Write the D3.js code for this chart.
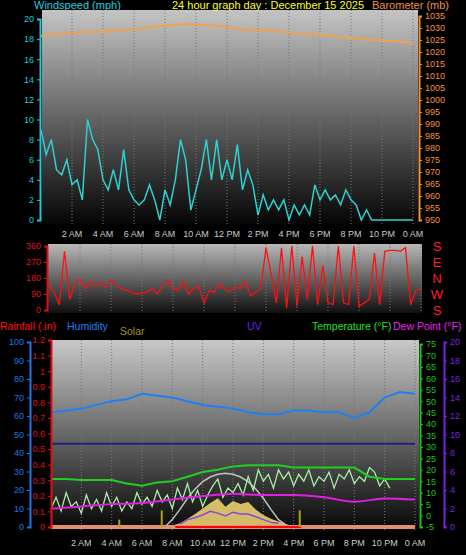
<!DOCTYPE html>
<html><head><meta charset="utf-8">
<script src="https://cdn.jsdelivr.net/npm/d3@7"></script>
<style>body{margin:0;background:#000}svg{display:block;font-family:"Liberation Sans",Arial,sans-serif}</style>
</head><body><svg id="c" width="466" height="555"></svg>
<script>
const hourTicks = [2,4,6,8,10,12,14,16,18,20,22,24]
const hourLabels = ['2 AM','4 AM','6 AM','8 AM','10 AM','12 PM','2 PM','4 PM','6 PM','8 PM','10 PM','0 AM']

// windspeed every 20 minutes (mph)
const wind = [9,6.5,8,5,4.5,6,3.5,4,2,10,8,7,4,3,5,3,7,3,2,1.5,2,3.5,2,0,3,1.5,4,8,6,1,3,5,8,4,8,4,
  6,4,7.5,3,5,3.5,0.5,2.5,1,2,1,2,0,1.5,0.5,1.5,0.5,3.5,2,3,2,2.5,1.5,3,2,1.5,0,1,0,0,0,0,0,0,0,0,0]
// barometer hourly (mb)
const baro = [1026.7,1027.5,1028,1028.3,1028.5,1029,1029.5,1030.3,1031,1031.5,1031.5,1031,1030.3,1029.5,1029,1028.6,1028.2,1027.6,1027.2,1026.6,1025.8,1025.2,1024.8,1024.5,1023.4]
// wind direction every 20 minutes (deg)
const windDir = [140,100,30,330,60,150,170,120,160,140,150,130,170,140,120,110,100,90,95,100,120,90,140,170,120,110,160,90,120,130,40,110,100,150,120,100,
  130,120,160,80,100,120,350,200,40,350,10,360,20,300,60,360,30,250,40,30,360,40,30,360,20,40,60,320,30,330,335,335,330,350,30,110,120]
// humidity hourly (%)
const humidity = [62,63,64,66,68,69,72,71,70,68,66,65,64,62,61,61,63,63,62,62,59,62,70,73,72]
// temperature hourly (F)
const temp = [16,16,15.5,15.5,15.5,14,13,14.5,15,17,19,20,21.5,22,22,22,21,21,21,21,21,17,16,16,16]
// dew point every 2 hours (F)
const dew = [3,4,5,5.5,7,8.5,9.5,9,9,8,6,7.5,7]
// wind chill every 20 minutes (F)
const chill = [3,8,2,10,4,6,1,9,3,7,2,10,4,8,2,6,3,10,5,8,4,11,6,9,3,12,7,14,6,11,4,9,13,16,8,12,
  10,14,9,17,11,20,15,18,12,20,16,19,13,18,15,20,13,17,15,19,12,18,16,20,14,17,15,21,19,13,16,12]
// solar every 30 minutes from 7.5h to 16.5h (W/m2)
const solarT = [7.5,8,8.5,9,9.5,10,10.5,11,11.5,12,12.5,13,13.5,14,14.5,15,15.5,16,16.5]
const solar = [0,8,20,45,70,100,130,155,110,140,125,135,95,65,45,30,15,4,0]
const solarMax = [0,40,95,155,205,245,270,285,290,285,270,245,205,155,95,40,10,0,0]
// uv every 30 minutes from 8.5h to 15h
const uvT = [8.5,9,9.5,10,10.5,11,11.5,12,12.5,13,13.5,14,14.5,15]
const uv = [0.3,0.8,1.0,1.3,1.7,1.5,1.2,1.6,1.4,1.4,1.1,0.8,0.5,0.4]
const humidityRef = 45

const svg = d3.select('#c')
const defs = svg.append('defs')
function grad(id, top, bot) {
  const g = defs.append('linearGradient').attr('id', id).attr('x1',0).attr('x2',0).attr('y1',0).attr('y2',1)
  g.append('stop').attr('offset','0%').attr('stop-color', top)
  g.append('stop').attr('offset','100%').attr('stop-color', bot)
}
grad('g1','#c4c4c4','#050505'); grad('g2','#b8b8b8','#101010'); grad('g3','#c8c8c8','#050505')

const t20 = arr => arr.map((v,i) => [i/3, v])
const t1 = arr => arr.map((v,i) => [i, v])

function panel(x0, x1, y0, y1, id) {
  svg.append('rect').attr('x',x0).attr('y',y0).attr('width',x1-x0).attr('height',y1-y0).attr('fill',`url(#${id})`)
}
function vgrid(x, y0, y1) {
  svg.append('g').selectAll('line').data(hourTicks).join('line')
    .attr('x1', d => x(d)).attr('x2', d => x(d)).attr('y1', y0).attr('y2', y1)
    .attr('stroke', '#777').attr('stroke-dasharray', '1,2')
}
function xlabels(x, y) {
  const g = svg.append('g').attr('font-size', 9).attr('fill', '#ccc').attr('text-anchor','middle')
  g.selectAll('text').data(hourTicks).join('text').attr('x', d => x(d)).attr('y', y).text((d,i) => hourLabels[i])
}
function axis(gen, scale, x, color, ticks, fmt) {
  const g = svg.append('g').attr('transform', `translate(${x},0)`)
    .call(gen(scale).tickValues(ticks).tickFormat(fmt || (d => d)).tickSize(3))
  g.selectAll('text').attr('fill', color).attr('font-size', 9).style('font-family','"Liberation Sans",Arial')
  g.selectAll('line').attr('stroke', color)
  g.select('.domain').attr('stroke', color).attr('stroke-width', 2)
  return g
}
const line = (x, y) => d3.line().x(d => x(d[0])).y(d => y(d[1]))

// ---- panel 1: wind and barometer
const x1 = d3.scaleLinear().domain([0,24]).range([41,413])
const yW = d3.scaleLinear().domain([0,20]).range([220,19])
const yB = d3.scaleLinear().domain([950,1035]).range([220,16])
panel(42, 418, 10, 224, 'g1')
vgrid(x1, 10, 224)
svg.append('path').datum(t1(baro)).attr('d', line(x1, yB)).attr('fill','none').attr('stroke','#f0a050').attr('stroke-width',2)
svg.append('path').datum(t20(wind)).attr('d', line(x1, yW)).attr('fill','none').attr('stroke','#2fd0d0').attr('stroke-width',1.5)
axis(d3.axisLeft, yW, 40, '#20c8d8', d3.range(0,21,2))
axis(d3.axisRight, yB, 419, '#f09040', d3.range(950,1036,5))
xlabels(x1, 237)
svg.append('text').attr('x',34).attr('y',9).attr('fill','#20d0e0').attr('font-size',11).text('Windspeed (mph)')
svg.append('text').attr('x',172).attr('y',9).attr('fill','#ffff20').attr('font-size',11).text('24 hour graph day : December 15 2025')
svg.append('text').attr('x',372).attr('y',9).attr('fill','#f09040').attr('font-size',11).text('Barometer (mb)')

// ---- panel 2: wind direction
const x2 = d3.scaleLinear().domain([0,24]).range([49,421])
const yD = d3.scaleLinear().domain([0,360]).range([310,246])
panel(48, 422, 244, 313, 'g2')
vgrid(x2, 244, 313)
svg.append('path').datum(t20(windDir)).attr('d', line(x2, yD)).attr('fill','none').attr('stroke','#ff1010').attr('stroke-width',1.3)
axis(d3.axisLeft, yD, 47, '#e01010', [0,90,180,270,360])
svg.append('g').attr('fill','#ff2020').attr('font-size',13).attr('text-anchor','middle')
  .selectAll('text').data(['S','E','N','W','S']).join('text')
  .attr('x',437).attr('y',(d,i)=>yD(360-i*90)+5).text(d=>d)

// ---- panel 3: rain, humidity, solar, uv, temperature
const x3 = d3.scaleLinear().domain([0,24]).range([51,415])
const yH = d3.scaleLinear().domain([0,100]).range([527,342])
const yR = d3.scaleLinear().domain([0,1.2]).range([527,340])
const yT = d3.scaleLinear().domain([-5,75]).range([527,344])
const yU = d3.scaleLinear().domain([0,20]).range([527,342])
const yS = d3.scaleLinear().domain([0,1000]).range([527,342])
panel(52, 419, 340, 532, 'g3')
vgrid(x3, 340, 532)
svg.append('line').attr('x1',x3(0)).attr('x2',x3(24)).attr('y1',yH(humidityRef)).attr('y2',yH(humidityRef)).attr('stroke','#202080').attr('stroke-width',2)
svg.append('path').datum(solarT.map((t,i)=>[t,solar[i]]))
  .attr('d', d3.area().x(d=>x3(d[0])).y0(yS(0)).y1(d=>yS(d[1]))).attr('fill','#e8d070').attr('opacity',0.9)
svg.append('path').datum(solarT.map((t,i)=>[t,solarMax[i]])).attr('d', line(x3, yS)).attr('fill','none').attr('stroke','#c0c0c0').attr('stroke-width',1.5)
svg.append('rect').attr('x',x3(0)).attr('y',yR(0)-2).attr('width',x3(24)-x3(0)).attr('height',4).attr('fill','#e09070')
svg.append('line').attr('x1',x3(8.2)).attr('x2',x3(16.5)).attr('y1',yR(0)).attr('y2',yR(0)).attr('stroke','#ff0000').attr('stroke-width',2)
svg.append('g').selectAll('line').data([4.5,7.3,16.4]).join('line')
  .attr('x1',d=>x3(d)).attr('x2',d=>x3(d)).attr('y1',yS(0)).attr('y2',(d,i)=>i?yS(90):yS(40)).attr('stroke','#b0a010').attr('stroke-width',2)
svg.append('path').datum(t20(chill)).attr('d', line(x3, yT)).attr('fill','none').attr('stroke','#a8f0a0').attr('stroke-width',1.3)
svg.append('path').datum(dew.map((v,i)=>[i*2,v])).attr('d', line(x3, yT).curve(d3.curveMonotoneX)).attr('fill','none').attr('stroke','#e020e0').attr('stroke-width',2)
svg.append('path').datum(t1(temp)).attr('d', line(x3, yT)).attr('fill','none').attr('stroke','#20d020').attr('stroke-width',2)
svg.append('path').datum(uvT.map((t,i)=>[t,uv[i]])).attr('d', line(x3, yU)).attr('fill','none').attr('stroke','#9040e0').attr('stroke-width',1.5)
svg.append('path').datum(t1(humidity)).attr('d', line(x3, yH)).attr('fill','none').attr('stroke','#2080f0').attr('stroke-width',2)
axis(d3.axisLeft, yH, 30, '#1878e8', d3.range(0,101,10))
axis(d3.axisLeft, yR, 51, '#e01010', d3.range(0,1.21,0.1).map(d=>+d.toFixed(1)))
axis(d3.axisRight, yT, 420, '#20c020', d3.range(-5,76,5))
axis(d3.axisRight, yU, 444, '#8020e0', d3.range(0,21,2))
xlabels(x3, 546)
const leg = [['Rainfall (.in)',0,330,'#ff1010'],['Humidity',67,330,'#2080f0'],['Solar',120,335,'#a09010'],['UV',247,330,'#7020e0'],['Temperature (°F)',312,330,'#20e020'],['Dew Point (°F)',393,330,'#f020f0']]
svg.append('g').attr('font-size',10.5).selectAll('text').data(leg).join('text')
  .attr('x',d=>d[1]).attr('y',d=>d[2]).attr('fill',d=>d[3]).text(d=>d[0])
</script></body></html>
